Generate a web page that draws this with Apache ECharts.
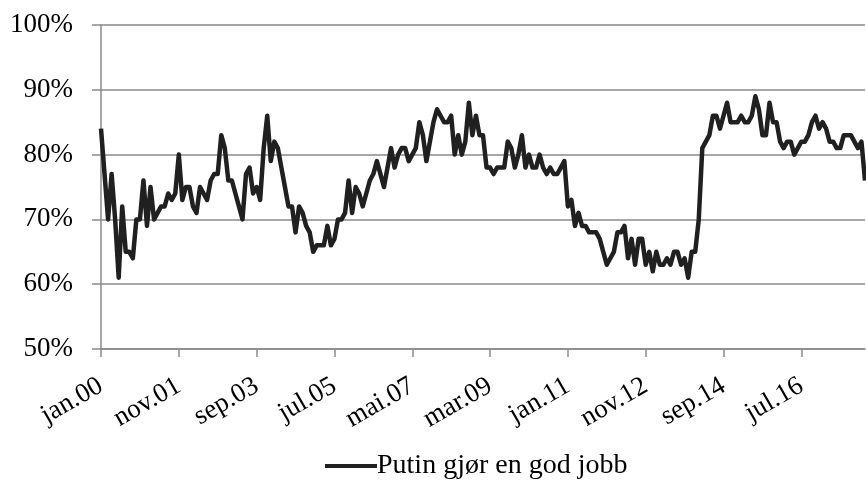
<!DOCTYPE html>
<html>
<head>
<meta charset="utf-8">
<title>Putin gjør en god jobb</title>
<script src="https://cdn.jsdelivr.net/npm/echarts@6/dist/echarts.min.js"></script>
<style>
  html, body { margin: 0; padding: 0; background: #fff; }
  #box { width: 866px; height: 485px; }
</style>
</head>
<body>
<div id="box"></div>
<script>
// månedsnavn, serien går fra jan.00 til jan.18
const monthNames = ['jan', 'feb', 'mar', 'apr', 'mai', 'jun', 'jul', 'aug', 'sep', 'okt', 'nov', 'des'];
const firstYear = 2000;
const seriesName = 'Putin gjør en god jobb';

// andel (%) som mener Putin gjør en god jobb, én verdi per måned
const approval = [
  84, 77, 70, 77, 70, 61, 72, 65, 65, 64, 70, 70,
  76, 69, 75, 70, 71, 72, 72, 74, 73, 74, 80, 73,
  75, 75, 72, 71, 75, 74, 73, 76, 77, 77, 83, 81,
  76, 76, 74, 72, 70, 77, 78, 74, 75, 73, 81, 86,
  79, 82, 81, 78, 75, 72, 72, 68, 72, 71, 69, 68,
  65, 66, 66, 66, 69, 66, 67, 70, 70, 71, 76, 71,
  75, 74, 72, 74, 76, 77, 79, 77, 75, 78, 81, 78,
  80, 81, 81, 79, 80, 81, 85, 83, 79, 82, 85, 87,
  86, 85, 85, 86, 80, 83, 80, 82, 88, 83, 86, 83,
  83, 78, 78, 77, 78, 78, 78, 82, 81, 78, 80, 83,
  78, 80, 78, 78, 80, 78, 77, 78, 77, 77, 78, 79,
  72, 73, 69, 71, 69, 69, 68, 68, 68, 67, 65, 63,
  64, 65, 68, 68, 69, 64, 67, 63, 67, 67, 63, 65,
  62, 65, 63, 63, 64, 63, 65, 65, 63, 64, 61, 65,
  65, 70, 81, 82, 83, 86, 86, 84, 86, 88, 85, 85,
  85, 86, 85, 85, 86, 89, 87, 83, 83, 88, 85, 85,
  82, 81, 82, 82, 80, 81, 82, 82, 83, 85, 86, 84,
  85, 84, 82, 82, 81, 81, 83, 83, 83, 82, 81, 82,
  76
];

// y-akse: 50% til 100%
const yMin = 50, yMax = 100, yStep = 10;
const labelEvery = 22; // hver 22. måned får etikett

const months = approval.map((v, i) => {
  let m = i % 12;
  let y = (firstYear + Math.floor(i / 12)) % 100;
  return monthNames[m] + '.' + String(y).padStart(2, '0');
});

const font = '"Liberation Serif", "Times New Roman", serif';
const gray = '#8a8a8a';

let chart = echarts.init(document.getElementById('box'));
let option = {
  animation: false,
  grid: { left: 101, right: 1, top: 25, bottom: 136, containLabel: false },
  legend: {
    data: [seriesName],
    bottom: 0,
    left: 320,
    icon: 'rect',
    itemWidth: 52,
    itemHeight: 4,
    textStyle: { fontFamily: font, fontSize: 28, color: '#000', padding: [0, 0, 0, -5] }
  },
  xAxis: {
    type: 'category',
    boundaryGap: false,
    data: months,
    axisLine: { lineStyle: { color: gray, width: 1.5 } },
    axisTick: { interval: labelEvery - 1, length: 8, lineStyle: { color: gray, width: 1.5 } },
    axisLabel: {
      interval: labelEvery - 1,
      rotate: 30,
      margin: 35,
      fontFamily: font,
      fontSize: 27,
      color: '#000'
    },
    splitLine: { show: false }
  },
  yAxis: {
    type: 'value',
    min: yMin,
    max: yMax,
    interval: yStep,
    axisLine: { show: true, lineStyle: { color: gray, width: 1.5 } },
    axisTick: { show: true, inside: false, length: 9, lineStyle: { color: gray, width: 1.5 } },
    axisLabel: {
      formatter: '{value}%',
      margin: 28,
      fontFamily: font,
      fontSize: 27,
      color: '#000'
    },
    splitLine: { lineStyle: { color: gray, width: 1.5 } }
  },
  series: [
    {
      name: seriesName,
      type: 'line',
      data: approval,
      showSymbol: false,
      symbol: 'none',
      lineStyle: { color: '#202020', width: 4.5, join: 'round' },
      itemStyle: { color: '#202020' }
    }
  ]
};
chart.setOption(option);
</script>
</body>
</html>
